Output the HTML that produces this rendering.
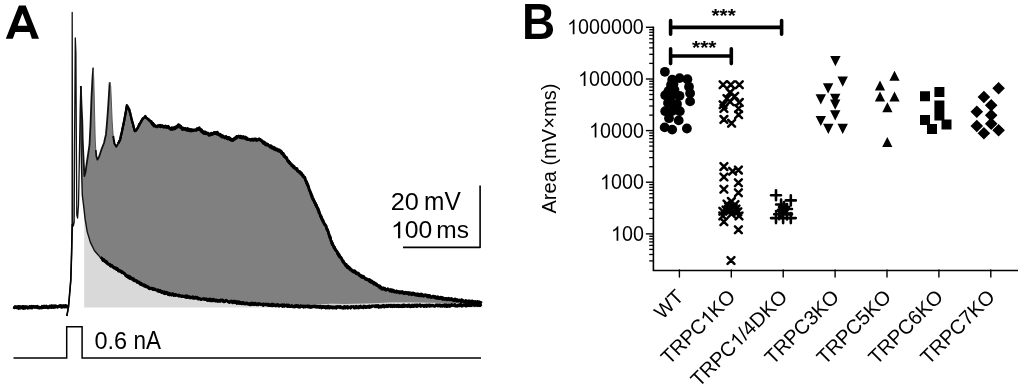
<!DOCTYPE html>
<html><head><meta charset="utf-8"><title>Figure</title>
<style>html,body{margin:0;padding:0;background:#fff;width:1024px;height:388px;overflow:hidden}svg{display:block;will-change:transform}</style>
</head><body>
<svg width="1024" height="388" viewBox="0 0 1024 388" font-family="'Liberation Sans', sans-serif" style="font-kerning:none">
<rect width="1024" height="388" fill="#fff"/>
<path d="M84.2,211.3 L85.2,219.7 L87.3,232.1 L90.4,242.4 L94.5,250.7 L100.7,257.9 L108.9,264.1 L117.2,269.2 L128.1,276.5 L139.8,283.2 L149.5,288.1 L169,294 L188.6,296.9 L208.1,299.8 L227.7,301.2 L247.2,303.7 L266.7,304.7 L286.3,305.7 L305.8,305.6 L330,303.8 L345.6,304 L369,303.4 L390,302.6 L408,302.4 L447,303 L481.6,304.8 L481.6,307.5 L84.2,307.5Z" fill="#d9d9d9"/>
<path d="M80.8,86 L81.5,105 L82.3,122 L82.7,140 L83.6,160 L84.4,176 L85.5,172 L86.5,165 L88,155 L89.5,145 L90.5,125 L91.5,97 L92.5,78 L93.2,67.7 L93.8,80 L94.5,110 L95.2,140 L95.8,150 L96.3,156 L97.4,159.7 L99,157 L101.4,149.7 L104,143 L106,134.2 L107.2,120 L108.2,106.4 L109.7,82.3 L110.7,86 L111.5,105 L112.2,121.9 L113.2,136 L114.4,143.5 L116.2,146.6 L118,144 L120,140.4 L122.5,129 L124.6,118.8 L126.8,105.8 L129.3,109.5 L132.3,121.9 L134.8,131.1 L137,129 L140,123.4 L142.5,119 L145.3,116.6 L148,119 L150.9,121.9 L154,125.5 L157.1,126.5 L159.3,125.9 L163.8,126.3 L167.7,126.6 L170.9,128.8 L174.1,128.2 L178.7,125.4 L182.5,128.8 L189,129.7 L194.1,130.8 L199.3,128.8 L203.1,132.1 L209.6,134.6 L212.2,133.6 L217.3,133.1 L221.2,135.9 L227.6,137.9 L232.8,140.1 L237.9,136.6 L244.7,137.6 L250.5,140.1 L259.2,139.5 L266,144.3 L273.7,148.2 L280.5,151.1 L285.3,156.9 L291.1,164.7 L296,168.6 L299.6,172.2 L304.1,176.7 L306.8,183 L309.5,190.2 L313.1,199.2 L317.6,208.2 L320.3,215.5 L323.9,222.7 L327.5,229.9 L329.5,235.5 L332.1,243.5 L336.3,251 L340.5,257.7 L345.5,264.8 L350.5,269.3 L357.2,273.5 L364,277.6 L370.7,281.3 L376.9,285 L381.7,288.2 L393.4,291.1 L405.2,292.9 L422.7,295.2 L440,298 L460,300.5 L481.6,303 L481.6,304.8 L447,303 L408,302.4 L390,302.6 L369,303.4 L345.6,304 L330,303.8 L305.8,305.6 L286.3,305.7 L266.7,304.7 L247.2,303.7 L227.7,301.2 L208.1,299.8 L188.6,296.9 L169,294 L149.5,288.1 L139.8,283.2 L128.1,276.5 L117.2,269.2 L108.9,264.1 L100.7,257.9 L94.5,250.7 L90.4,242.4 L87.3,232.1 L85.2,219.7 L83.8,207.4 L82.3,195 L81.6,170 L81,140 L80.7,110 L80.8,86Z" fill="#808080"/>
<path d="M66.8,316 L68.5,307 L70.8,280 L71.6,253.4 L72.1,224 L72.2,12.4 L72.4,120 L72.6,222 L73.3,226 L74.2,222 L74.5,150 L75.3,38 L75.9,53.6 L76.4,150 L76.8,215 L77.6,218 L78.5,205 L78.8,190 L79.5,150 L80.2,110 L80.8,86" fill="none" stroke="#111" stroke-width="1.3" stroke-linejoin="round"/>
<path d="M80.8,86 L81.5,105 L82.3,122 L82.7,140 L83.6,160 L84.4,176 L85.5,172 L86.5,165 L88,155 L89.5,145 L90.5,125 L91.5,97 L92.5,78 L93.2,67.7" fill="none" stroke="#111" stroke-width="1.8" stroke-linejoin="round"/>
<path d="M95.8,150 L96.3,156 L97.4,159.7 L99,157 L101.4,149.7 L104,143 L106,134.2 L107.2,120 L108.2,106.4 L109.7,82.3" fill="none" stroke="#111" stroke-width="1.8" stroke-linejoin="round"/>
<path d="M113.2,136 L114.4,143.5 L116.2,146.6 L118,144" fill="none" stroke="#000" stroke-width="2.0" stroke-linejoin="round"/>
<path d="M118,143.8 L118.4,142.8 L118.8,142.8 L119.2,141.2 L119.6,141.2 L120,140.2 L120.2,139.1 L120.3,139 L120.5,137.6 L120.6,137.5 L120.8,136.2 L120.9,135.6 L121.1,135.3 L121.2,135.2 L121.4,133.5 L121.6,132.9 L121.7,132.7 L121.9,132.5 L122,131.2 L122.2,130.3 L122.3,130.4 L122.5,128.4 L122.7,128.8 L122.8,127.2 L123,126.3 L123.1,125.6 L123.2,125.1 L123.4,125.1 L123.5,123.5 L123.7,123.3 L123.8,122.6 L124,121.5 L124.1,121.1 L124.3,119.6 L124.4,118.9 L124.6,118.4 L124.7,118.3 L124.8,117.3 L125,116.4 L125.1,116 L125.2,115.1 L125.3,114.2 L125.5,114.2 L125.6,113.3 L125.7,111.9 L125.8,111.7 L125.9,110.9 L126.1,110.7 L126.2,109.7 L126.3,108.4 L126.4,108.6 L126.6,106.7 L126.7,106.4 L126.8,106.2 L127.2,105.9 L127.6,107 L128.1,107 L128.5,108.5 L128.9,109.3 L129.3,109.6 L129.5,110.7 L129.6,110.6 L129.8,111.8 L130,112.4 L130.1,113.1 L130.3,113.6 L130.5,114.8 L130.6,115.6 L130.8,115.7 L131,116.6 L131.1,116.5 L131.3,118 L131.5,118.7 L131.6,119.8 L131.8,120.3 L132,120.2 L132.1,121.1 L132.3,122.1 L132.5,121.9 L132.7,123.3 L132.9,123.6 L133.1,124.2 L133.3,124.8 L133.5,126.5 L133.6,126.3 L133.8,127.2 L134,128.1 L134.2,129.5 L134.4,129.1 L134.6,130.3 L134.8,131.2 L135.4,131.1 L135.9,130.5 L136.4,130 L137,128.7 L137.3,128.3 L137.7,127.6 L138,127.7 L138.3,127.2 L138.7,125.4 L139,124.8 L139.3,124.3 L139.7,123.6 L140,123.4 L140.4,122.9 L140.7,121.8 L141.1,120.8 L141.4,120.8 L141.8,120.1 L142.1,119.7 L142.5,119.6 L143.1,118.8 L143.6,118.1 L144.2,117.7 L144.7,117.3 L145.3,116 L145.8,117.6 L146.4,118 L146.9,118.6 L147.5,118.9 L148,118.8 L148.6,119.4 L149.2,119.6 L149.7,120.9 L150.3,120.7 L150.9,121.3" fill="none" stroke="#000" stroke-width="2.2" stroke-linejoin="round"/>
<path d="M118,143.6 L118.4,142.8 L118.8,142.3 L119.2,141.2 L119.6,140.4 L120,139.9 L120.2,139.1 L120.3,138.8 L120.5,137.6 L120.6,138.1 L120.8,137 L120.9,135.6 L121.1,135.1 L121.2,134.5 L121.4,133.8 L121.6,132.7 L121.7,133.1 L121.9,132.5 L122,131.1 L122.2,130.4 L122.3,129.1 L122.5,128.4 L122.7,128.1 L122.8,127.2 L123,127.3 L123.1,125.6 L123.2,124.7 L123.4,125.3 L123.5,123.9 L123.7,122.7 L123.8,122.5 L124,121.1 L124.1,121 L124.3,120.9 L124.4,120 L124.6,119.1 L124.7,117.7 L124.8,117.2 L125,116.2 L125.1,116.3 L125.2,115.2 L125.3,114.9 L125.5,113.5 L125.6,112.6 L125.7,112.7 L125.8,112.3 L125.9,111.3 L126.1,110.6 L126.2,109.9 L126.3,109 L126.4,107.6 L126.6,107.3 L126.7,106.3 L126.8,105.1 L127.2,105.8 L127.6,106.7 L128.1,107.3 L128.5,108.5 L128.9,109.5 L129.3,109.4 L129.5,110.8 L129.6,111.6 L129.8,112.2 L130,112.1 L130.1,112.6 L130.3,113.3 L130.5,113.9 L130.6,114.6 L130.8,115.9 L131,116.9 L131.1,117.6 L131.3,117.7 L131.5,118.7 L131.6,119.6 L131.8,119.3 L132,120.7 L132.1,121.8 L132.3,122.3 L132.5,123 L132.7,123.3 L132.9,123.6 L133.1,125.1 L133.3,125.2 L133.5,126.6 L133.6,127.5 L133.8,127.4 L134,128.1 L134.2,129.6 L134.4,130 L134.6,129.9 L134.8,130.6 L135.4,130.1 L135.9,130.6 L136.4,130 L137,128.5 L137.3,128.8 L137.7,128.4 L138,127.4 L138.3,126.3 L138.7,126 L139,124.8 L139.3,124 L139.7,124.7 L140,123.6 L140.4,122.8 L140.7,122.7 L141.1,121.4 L141.4,121.4 L141.8,120.7 L142.1,119.2 L142.5,118.7 L143.1,118.2 L143.6,117.7 L144.2,117.7 L144.7,116.7 L145.3,116.5 L145.8,116.6 L146.4,118.1 L146.9,117.8 L147.5,118.5 L148,119.1 L148.6,120.1 L149.2,120 L149.7,121.3 L150.3,121.3 L150.9,121.9" fill="none" stroke="#000" stroke-width="2.2" stroke-linejoin="round"/>
<path d="M93.2,67.7 L93.8,80 L94.5,110 L95.2,140 L95.8,150" fill="none" stroke="#555" stroke-width="1.0" stroke-linejoin="round"/>
<path d="M109.7,82.3 L110.7,86 L111.5,105 L112.2,121.9 L113.2,136" fill="none" stroke="#555" stroke-width="1.0" stroke-linejoin="round"/>
<path d="M150.9,122 L151.4,121.4 L151.9,123 L152.4,123 L153,123.2 L153.5,125.6 L154,124.8 L154.8,125.7 L155.6,126.5 L156.3,126.4 L157.1,126.1 L157.8,126.3 L158.6,126.2 L159.3,126.5 L160.1,125.1 L160.8,126.2 L161.6,125.5 L162.3,125.7 L163.1,126.8 L163.8,126.3 L164.6,126.5 L165.4,127 L166.1,127.4 L166.9,126.4 L167.7,126.8 L168.3,127.1 L169,127.5 L169.6,128.3 L170.3,128.3 L170.9,128.9 L171.7,128.6 L172.5,129.5 L173.3,128.8 L174.1,129 L174.8,128.8 L175.4,126.9 L176.1,127.1 L176.7,127.6 L177.4,126.9 L178,125 L178.7,124.6 L179.2,125.8 L179.8,125.4 L180.3,126.3 L180.9,126.4 L181.4,128.2 L182,128.9 L182.5,129.7 L183.2,128.1 L183.9,129.5 L184.7,129.5 L185.4,128.4 L186.1,130.1 L186.8,130.4 L187.6,128.9 L188.3,130.6 L189,129.5 L189.7,129.8 L190.5,131.1 L191.2,130.9 L191.9,129.6 L192.6,130.3 L193.4,130.7 L194.1,130.4 L194.8,129.8 L195.6,129.8 L196.3,130.4 L197.1,128.6 L197.8,129.5 L198.6,129 L199.3,127.7 L199.8,128.9 L200.4,130 L200.9,130.2 L201.5,129.7 L202,132.2 L202.6,132.3 L203.1,133.1 L203.8,131.5 L204.5,132.1 L205.3,131.9 L206,133.8 L206.7,133 L207.4,133 L208.2,133.9 L208.9,135.2 L209.6,135.3 L210.5,133.7 L211.3,133.2 L212.2,134.5 L212.9,133.7 L213.7,133.9 L214.4,132.5 L215.1,132.3 L215.8,133.7 L216.6,133 L217.3,132.2 L218,134.5 L218.6,134.3 L219.2,135.2 L219.9,134.1 L220.5,136.2 L221.2,134.9 L221.9,136.9 L222.6,136.2 L223.3,136.2 L224,136.9 L224.8,137.9 L225.5,136.7 L226.2,136.6 L226.9,137.7 L227.6,137.3 L228.2,137.3 L228.9,137.7 L229.6,137.7 L230.2,138.3 L230.8,138.9 L231.5,139.1 L232.2,140.4 L232.8,139.6 L233.4,139.7 L234.1,138.5 L234.7,138.5 L235.4,137.3 L236,137.4 L236.6,136.4 L237.3,137.6 L237.9,136.7 L238.7,136 L239.4,136.8 L240.2,137.9 L240.9,136.2 L241.7,137.9 L242.4,137.1 L243.2,137.4 L243.9,138.2 L244.7,137.4 L245.3,137.9 L246,138.6 L246.6,139.5 L247.3,138.4 L247.9,139.7 L248.6,139.7 L249.2,139.8 L249.9,139.6 L250.5,139.8 L251.2,139.1 L251.9,139.2 L252.7,139 L253.4,140.4 L254.1,139.3 L254.8,139.1 L255.6,138.8 L256.3,140.5 L257,140.5 L257.8,140 L258.5,139.1 L259.2,138.9 L259.8,139.5 L260.4,140.3 L261.1,140.1 L261.7,141.1 L262.3,141.2 L262.9,143.1 L263.5,143.6 L264.1,143.1 L264.8,142.9 L265.4,144.9 L266,143.9 L266.6,144.3 L267.3,143.9 L267.9,145 L268.6,145.5 L269.2,145.9 L269.9,145.6 L270.5,146.6 L271.1,145.8 L271.8,146.7 L272.4,146.6 L273.1,147.7 L273.7,147.2 L274.4,147.4 L275.1,148.3 L275.7,148.5 L276.4,149.5 L277.1,149.7 L277.8,150.5 L278.5,150.6 L279.1,151 L279.8,151.6 L280.5,150.9 L281,151.3 L281.5,153.3 L281.9,152.1 L282.4,153.9 L282.9,154.3 L283.4,153.6 L283.9,155.9 L284.3,156.6 L284.8,156.6 L285.3,157.4 L285.7,158.2 L286.2,157.3 L286.6,158.8 L287.1,159.3 L287.5,160.6 L288,161.2 L288.4,161.8 L288.9,161.9 L289.3,163.2 L289.8,163.3 L290.2,163.9 L290.7,163.5 L291.1,163.7 L291.7,164.4 L292.3,165.4 L292.9,165.3 L293.6,167.4 L294.2,167.3 L294.8,167.9 L295.4,168.4 L296,169 L296.5,169.1 L297,168.5 L297.5,170.8 L298.1,171.2 L298.6,171.2 L299.1,171.8 L299.6,172.6 L300.1,171.7 L300.6,173.7 L301.1,173.2 L301.6,173.3 L302.1,174.2 L302.6,175.7 L303.1,175.1 L303.6,176.7 L304.1,177.7 L304.4,177.4 L304.7,177.8 L305,178.8 L305.3,179.9 L305.6,180.8 L305.9,181.2 L306.2,181.9 L306.5,181.4 L306.8,182.2 L307.1,183.2 L307.3,185 L307.6,184.7 L307.9,186 L308.1,185.5 L308.4,186.4 L308.7,187.5 L309,189.1 L309.2,189.9 L309.5,190.6 L309.8,190.4 L310.1,191.6 L310.3,192.2 L310.6,192.9 L310.9,192.8 L311.2,195.2 L311.4,194.4 L311.7,196.8 L312,197.4 L312.3,196.1 L312.5,197.7 L312.8,199.2 L313.1,200.2 L313.4,199.7 L313.7,200 L314.1,200.5 L314.4,202.8 L314.7,201.8 L315,203.2 L315.4,202.9 L315.7,204.4 L316,206 L316.3,204.8 L316.6,207 L317,206.9 L317.3,208.4 L317.6,208.6 L317.8,208.3 L318.1,210.4 L318.3,210.2 L318.6,209.8 L318.8,210.4 L319.1,212.2 L319.3,212.7 L319.6,213.1 L319.8,213.4 L320.1,214.5 L320.3,215.1 L320.6,216.9 L321,215.7 L321.3,218 L321.6,218.9 L321.9,217.9 L322.3,220.4 L322.6,220.6 L322.9,221.6 L323.2,220.9 L323.6,221.8 L323.9,222.5 L324.2,224.5 L324.6,224.2 L324.9,224.4 L325.2,225.2 L325.5,225.5 L325.9,225.6 L326.2,226.4 L326.5,228.7 L326.8,228.1 L327.2,230.2 L327.5,229.3 L327.8,230.1 L328,231.3 L328.2,231.3 L328.5,232.4 L328.8,234.4 L329,234.9 L329.2,235.5 L329.5,235.8 L329.7,237.1 L329.9,237.8 L330.1,237.6 L330.4,238.6 L330.6,237.8 L330.8,240 L331,240.1 L331.2,241.4 L331.5,241.8 L331.7,241.7 L331.9,241.8 L332.1,244.4 L332.5,243.3 L332.8,244.7 L333.2,245 L333.5,245.6 L333.9,247.2 L334.2,248.3 L334.6,247.3 L334.9,248.8 L335.2,248.7 L335.6,249.9 L335.9,250.1 L336.3,250.3 L336.7,250.9 L337.1,251.6 L337.4,253.7 L337.8,253.4 L338.2,253.4 L338.6,255.5 L339,256.4 L339.4,255.8 L339.7,255.7 L340.1,256.4 L340.5,256.8 L340.9,257.9 L341.3,258 L341.8,258.9 L342.2,259.5 L342.6,260.8 L343,262.1 L343.4,262.4 L343.8,262.2 L344.2,262.8 L344.7,263.7 L345.1,263.9 L345.5,264.4 L346.1,264.3 L346.6,265.3 L347.2,267.3 L347.7,266 L348.3,267.3 L348.8,268.1 L349.4,269.1 L349.9,268.2 L350.5,268.8 L351.1,269.1 L351.7,269.8 L352.3,270.3 L352.9,271.8 L353.5,272 L354.2,272.4 L354.8,270.9 L355.4,271.3 L356,273.2 L356.6,274 L357.2,273.4 L357.8,274.1 L358.4,273.1 L359.1,274.4 L359.7,275.9 L360.3,276.1 L360.9,276.5 L361.5,277.1 L362.1,275.9 L362.8,276 L363.4,276.5 L364,277.6 L364.7,278.4 L365.3,279.3 L366,279.2 L366.7,279.4 L367.4,280 L368,279.7 L368.7,280.3 L369.4,279.5 L370,281.6 L370.7,280.7 L371.3,282.6 L371.9,282.4 L372.6,282 L373.2,282 L373.8,282.6 L374.4,283.8 L375,284.3 L375.7,283.4 L376.3,283.7 L376.9,285.1 L377.5,285.6 L378.1,285.6 L378.7,285.6 L379.3,286.8 L379.9,285.9 L380.5,287 L381.1,287.7 L381.7,289.2 L382.4,288.7 L383.1,289.4 L383.8,288.7 L384.5,288.3 L385.1,288.5 L385.8,290.2 L386.5,289.8 L387.2,289.1 L387.9,288.7 L388.6,289.9 L389.3,290.5 L390,290.1 L390.6,289.9 L391.3,291 L392,291.7 L392.7,290.3 L393.4,290.1 L394.1,290.8 L394.8,291.1 L395.5,291.8 L396.2,290.9 L396.9,292.3 L397.6,292.3 L398.3,291.9 L399,291.3 L399.6,293.1 L400.3,291.7 L401,293 L401.7,291.8 L402.4,291.9 L403.1,293.2 L403.8,292.2 L404.5,293.8 L405.2,292.9 L405.9,292.3 L406.6,292.5 L407.3,293 L408,293.6 L408.7,294.3 L409.4,292.7 L410.1,293.3 L410.8,293 L411.5,294.8 L412.2,293 L412.9,292.9 L413.6,293 L414.3,293.9 L415,295.1 L415.7,295.1 L416.4,294.9 L417.1,295.6 L417.8,295.5 L418.5,294.3 L419.2,294 L419.9,295.8 L420.6,295.5 L421.3,294 L422,295.5 L422.7,294.9 L423.4,295 L424.1,295.1 L424.8,294.8 L425.5,294.6 L426.2,295.3 L426.9,295.5 L427.5,297 L428.2,295.3 L428.9,297.2 L429.6,295.7 L430.3,296.1 L431,297.3 L431.7,297.4 L432.4,296.6 L433.1,295.9 L433.8,296.9 L434.5,296.8 L435.2,298.1 L435.8,296.7 L436.5,297.1 L437.2,298.4 L437.9,296.6 L438.6,297.6 L439.3,298.6 L440,298.6 L440.7,297.1 L441.4,297.2 L442.1,297.3 L442.9,299.3 L443.6,297.9 L444.3,299.1 L445,299.5 L445.7,298.4 L446.4,298.3 L447.1,299.9 L447.9,299.2 L448.6,298.5 L449.3,299.6 L450,298.8 L450.7,298.8 L451.4,298.3 L452.1,300.1 L452.9,300.5 L453.6,300 L454.3,300.8 L455,298.8 L455.7,299.4 L456.4,300 L457.1,301.1 L457.9,301.2 L458.6,300.1 L459.3,299.9 L460,300.3 L460.7,300.6 L461.4,301.6 L462.1,300 L462.8,301.5 L463.5,301.4 L464.2,301.7 L464.9,301.7 L465.6,301.4 L466.3,300.8 L467,300.9 L467.7,301.1 L468.4,302.1 L469.1,300.6 L469.8,301 L470.5,302.3 L471.1,301.2 L471.8,300.9 L472.5,300.9 L473.2,302.1 L473.9,301.7 L474.6,303.3 L475.3,303.1 L476,303.4 L476.7,301.9 L477.4,301.6 L478.1,301.7 L478.8,302.7 L479.5,303.2 L480.2,302.7 L480.9,302.3 L481.6,302.8" fill="none" stroke="#000" stroke-width="2.6" stroke-linejoin="round"/>
<path d="M150.9,122.2 L151.4,122.9 L151.9,123.6 L152.4,124.5 L153,124.7 L153.5,124.1 L154,126.2 L154.8,125.3 L155.6,126.1 L156.3,126 L157.1,127 L157.8,125.6 L158.6,125.5 L159.3,125.3 L160.1,125.2 L160.8,126.9 L161.6,126.3 L162.3,125.8 L163.1,126 L163.8,127.4 L164.6,126.4 L165.4,125.8 L166.1,127.2 L166.9,126.9 L167.7,127.7 L168.3,126.2 L169,127.4 L169.6,128.6 L170.3,129.1 L170.9,129.7 L171.7,127.6 L172.5,128 L173.3,127.5 L174.1,127.5 L174.8,128.8 L175.4,127.6 L176.1,127.9 L176.7,126.3 L177.4,127 L178,125.7 L178.7,124.9 L179.2,126.5 L179.8,127.4 L180.3,126 L180.9,127.6 L181.4,128.1 L182,127.7 L182.5,128.5 L183.2,128.1 L183.9,128.3 L184.7,128.6 L185.4,129.4 L186.1,129.6 L186.8,128.7 L187.6,128.4 L188.3,129.2 L189,130.1 L189.7,129.2 L190.5,129.6 L191.2,129.5 L191.9,131 L192.6,130.6 L193.4,129.7 L194.1,129.9 L194.8,130.3 L195.6,130.3 L196.3,130.2 L197.1,128.8 L197.8,128.6 L198.6,129.5 L199.3,128.6 L199.8,128.8 L200.4,129.3 L200.9,131.2 L201.5,130.3 L202,131.3 L202.6,131.3 L203.1,131.9 L203.8,133.2 L204.5,133.7 L205.3,132.6 L206,132.5 L206.7,134 L207.4,133.1 L208.2,133 L208.9,135.2 L209.6,134.4 L210.5,135 L211.3,133.7 L212.2,134.4 L212.9,133.4 L213.7,132.7 L214.4,132.3 L215.1,133.4 L215.8,133.6 L216.6,134.1 L217.3,132.2 L218,133.8 L218.6,133.7 L219.2,134.5 L219.9,134.2 L220.5,135 L221.2,135.9 L221.9,137.1 L222.6,135.5 L223.3,136.5 L224,137.5 L224.8,138 L225.5,136.6 L226.2,136.6 L226.9,138.7 L227.6,138.9 L228.2,138.1 L228.9,137.5 L229.6,139.7 L230.2,138.8 L230.8,140.2 L231.5,139.8 L232.2,140.5 L232.8,139.4 L233.4,140.3 L234.1,138.6 L234.7,138.6 L235.4,139.1 L236,138.6 L236.6,136.8 L237.3,136.4 L237.9,136.4 L238.7,136.8 L239.4,136.6 L240.2,136.1 L240.9,136.5 L241.7,137.7 L242.4,138.1 L243.2,136.4 L243.9,137.6 L244.7,138.2 L245.3,136.9 L246,138.9 L246.6,137.6 L247.3,138.9 L247.9,139.1 L248.6,139.5 L249.2,139.1 L249.9,139.6 L250.5,140.3 L251.2,139.9 L251.9,140.3 L252.7,139.8 L253.4,139.8 L254.1,138.8 L254.8,140.1 L255.6,139.7 L256.3,139.1 L257,140.2 L257.8,140.2 L258.5,139.5 L259.2,138.8 L259.8,139.9 L260.4,139.5 L261.1,140 L261.7,141.1 L262.3,140.8 L262.9,142 L263.5,142.6 L264.1,142 L264.8,143.7 L265.4,142.9 L266,144.8 L266.6,145.2 L267.3,145 L267.9,144.3 L268.6,145.6 L269.2,145.7 L269.9,147.2 L270.5,145.8 L271.1,147.7 L271.8,148.3 L272.4,148.1 L273.1,148.6 L273.7,147.5 L274.4,149.5 L275.1,148.8 L275.7,150.1 L276.4,150.3 L277.1,148.9 L277.8,150.6 L278.5,151.2 L279.1,149.6 L279.8,150.5 L280.5,151.7 L281,150.9 L281.5,153.1 L281.9,152.3 L282.4,154.1 L282.9,153.2 L283.4,154.6 L283.9,156.1 L284.3,155.1 L284.8,155.8 L285.3,156.9 L285.7,157.1 L286.2,157.1 L286.6,158 L287.1,158.6 L287.5,160.9 L288,160.9 L288.4,162 L288.9,161 L289.3,162.9 L289.8,162.1 L290.2,163.6 L290.7,164.4 L291.1,164.4 L291.7,166 L292.3,165.8 L292.9,166.3 L293.6,167.5 L294.2,166.3 L294.8,168.7 L295.4,168.4 L296,168.4 L296.5,169.8 L297,169.1 L297.5,171.2 L298.1,170.8 L298.6,170.9 L299.1,172.3 L299.6,172.1 L300.1,172 L300.6,173.7 L301.1,172.7 L301.6,174.9 L302.1,174.2 L302.6,175.5 L303.1,176.8 L303.6,176.4 L304.1,177.1 L304.4,177 L304.7,177 L305,177.8 L305.3,178.7 L305.6,180.5 L305.9,180.8 L306.2,181.6 L306.5,183.2 L306.8,182.2 L307.1,183.1 L307.3,184.8 L307.6,184.1 L307.9,184.8 L308.1,186.3 L308.4,186.5 L308.7,187.7 L309,188.2 L309.2,189.7 L309.5,190.4 L309.8,190.2 L310.1,191.9 L310.3,192.2 L310.6,192.2 L310.9,194.6 L311.2,193.8 L311.4,194.3 L311.7,194.8 L312,196.7 L312.3,197.9 L312.5,198.4 L312.8,198.3 L313.1,198.7 L313.4,198.8 L313.7,200.8 L314.1,201.3 L314.4,201.4 L314.7,202.7 L315,202.9 L315.4,204.7 L315.7,204.9 L316,204.4 L316.3,206.5 L316.6,205.3 L317,207 L317.3,207.4 L317.6,207.6 L317.8,207.9 L318.1,210.1 L318.3,209.1 L318.6,211 L318.8,212.5 L319.1,211.4 L319.3,212.2 L319.6,213.7 L319.8,214.2 L320.1,215.1 L320.3,216.2 L320.6,215.4 L321,216.4 L321.3,217 L321.6,217.1 L321.9,219.6 L322.3,220 L322.6,220.6 L322.9,219.7 L323.2,222.1 L323.6,222.6 L323.9,222.6 L324.2,223.9 L324.6,223.9 L324.9,224.1 L325.2,224.4 L325.5,225.4 L325.9,225.6 L326.2,226.9 L326.5,228.5 L326.8,229 L327.2,230 L327.5,230.4 L327.8,230.1 L328,231.4 L328.2,231.9 L328.5,233.3 L328.8,233.5 L329,233.6 L329.2,235.1 L329.5,236.5 L329.7,235.5 L329.9,237.7 L330.1,236.4 L330.4,237.6 L330.6,238.3 L330.8,240 L331,241.1 L331.2,241.4 L331.5,241.1 L331.7,243 L331.9,242.5 L332.1,242.9 L332.5,245 L332.8,245 L333.2,245.8 L333.5,246.4 L333.9,247.7 L334.2,247.2 L334.6,248.6 L334.9,248.9 L335.2,249.9 L335.6,249.6 L335.9,250.9 L336.3,251.2 L336.7,251.2 L337.1,251.6 L337.4,253.1 L337.8,252.5 L338.2,254.9 L338.6,253.9 L339,254.2 L339.4,255 L339.7,257.4 L340.1,256.7 L340.5,256.9 L340.9,257.3 L341.3,257.9 L341.8,259.9 L342.2,260.4 L342.6,261.1 L343,261.8 L343.4,260.9 L343.8,262.6 L344.2,262.7 L344.7,264.3 L345.1,264.9 L345.5,265.7 L346.1,264.3 L346.6,266.6 L347.2,267.2 L347.7,267.8 L348.3,266.4 L348.8,267.2 L349.4,267.4 L349.9,267.8 L350.5,270.1 L351.1,270.4 L351.7,270.4 L352.3,271.2 L352.9,271.1 L353.5,270.7 L354.2,270.7 L354.8,271.1 L355.4,272.9 L356,272.1 L356.6,272.7 L357.2,273.3 L357.8,272.8 L358.4,273.7 L359.1,274.1 L359.7,275.5 L360.3,275.1 L360.9,275.3 L361.5,277.1 L362.1,276.5 L362.8,277.6 L363.4,277.5 L364,276.6 L364.7,277.8 L365.3,278.2 L366,279.3 L366.7,278.7 L367.4,279.9 L368,279.9 L368.7,279.6 L369.4,281.4 L370,280 L370.7,282 L371.3,280.9 L371.9,280.9 L372.6,281.8 L373.2,283.4 L373.8,284.2 L374.4,282.4 L375,283.9 L375.7,284.2 L376.3,285.3 L376.9,284.3 L377.5,285.4 L378.1,285.5 L378.7,286.9 L379.3,286.1 L379.9,288 L380.5,286.9 L381.1,287.2 L381.7,288.6 L382.4,288.4 L383.1,287.7 L383.8,289 L384.5,288 L385.1,289.7 L385.8,289.7 L386.5,290 L387.2,289.8 L387.9,289.4 L388.6,289.7 L389.3,289.8 L390,291.1 L390.6,289.5 L391.3,291.4 L392,289.7 L392.7,290.3 L393.4,290.6 L394.1,292.1 L394.8,291.3 L395.5,291.2 L396.2,292.4 L396.9,291 L397.6,291.6 L398.3,291.9 L399,292.5 L399.6,292.6 L400.3,292.5 L401,291.9 L401.7,292 L402.4,291.7 L403.1,293.3 L403.8,293 L404.5,293.3 L405.2,292.2 L405.9,292.9 L406.6,293.7 L407.3,293.4 L408,292.4 L408.7,293.3 L409.4,294.3 L410.1,293 L410.8,293 L411.5,293.3 L412.2,294.3 L412.9,294.7 L413.6,293.2 L414.3,293.3 L415,293.6 L415.7,293.9 L416.4,294.4 L417.1,293.7 L417.8,294.2 L418.5,294 L419.2,295.8 L419.9,295.3 L420.6,294 L421.3,296 L422,294.2 L422.7,294.9 L423.4,296.4 L424.1,296.1 L424.8,296 L425.5,295.5 L426.2,295.1 L426.9,296.2 L427.5,295.1 L428.2,295.5 L428.9,296 L429.6,295.3 L430.3,296.2 L431,297.2 L431.7,297.1 L432.4,296.8 L433.1,297.2 L433.8,296.9 L434.5,296.3 L435.2,297.4 L435.8,297.1 L436.5,298 L437.2,298.4 L437.9,297.5 L438.6,297.9 L439.3,298.4 L440,297.8 L440.7,297.5 L441.4,298.7 L442.1,299.1 L442.9,299 L443.6,298.9 L444.3,299.3 L445,299 L445.7,299 L446.4,298.7 L447.1,298.5 L447.9,299.3 L448.6,298.2 L449.3,299 L450,299.9 L450.7,299.8 L451.4,299.7 L452.1,299 L452.9,299.4 L453.6,299.6 L454.3,300.1 L455,299.7 L455.7,300.3 L456.4,301 L457.1,299.4 L457.9,300.6 L458.6,300.9 L459.3,300.2 L460,300.5 L460.7,301.6 L461.4,299.6 L462.1,300.8 L462.8,300.1 L463.5,301.5 L464.2,302 L464.9,301.1 L465.6,300.3 L466.3,301.4 L467,301.4 L467.7,301.9 L468.4,301.5 L469.1,301.9 L469.8,302.4 L470.5,301.8 L471.1,301.6 L471.8,302.9 L472.5,301.3 L473.2,302.4 L473.9,301.9 L474.6,302.8 L475.3,301.4 L476,303.4 L476.7,302.1 L477.4,301.5 L478.1,302.1 L478.8,302.5 L479.5,301.7 L480.2,302.7 L480.9,302.7 L481.6,303.4" fill="none" stroke="#000" stroke-width="2.6" stroke-linejoin="round"/>
<path d="M100.7,257.6 L101.3,257.8 L101.9,258.2 L102.5,259.8 L103,260.6 L103.6,260.2 L104.2,259.9 L104.8,261.7 L105.4,261.2 L106,261.3 L106.6,261.5 L107.1,263.4 L107.7,263.9 L108.3,264 L108.9,264 L109.5,264.6 L110.2,264.3 L110.8,266.3 L111.5,265.3 L112.1,266.4 L112.7,267.2 L113.4,267.5 L114,267.2 L114.6,267.2 L115.3,268.1 L115.9,267.6 L116.6,269.5 L117.2,268.9 L117.8,270.4 L118.4,269.5 L119,270.1 L119.6,270.3 L120.2,271.1 L120.8,270.9 L121.4,270.9 L122,272.9 L122.7,272.4 L123.3,272.7 L123.9,273.2 L124.5,274 L125.1,274.3 L125.7,275.2 L126.3,275.6 L126.9,275.4 L127.5,277 L128.1,277.3 L128.7,275.9 L129.3,277.9 L129.9,278.5 L130.6,278.5 L131.2,277.5 L131.8,279.3 L132.4,279.3 L133,278.3 L133.6,278.6 L134.3,281 L134.9,280.7 L135.5,280.2 L136.1,280.2 L136.7,280.7 L137.3,281.2 L138,282.7 L138.6,282.2 L139.2,282.1 L139.8,284.1 L140.4,284.2 L141.1,283.1 L141.7,285 L142.4,284.7 L143,285.5 L143.7,285.5 L144.3,286.4 L145,286.4 L145.6,286.9 L146.3,285.8 L146.9,287.2 L147.6,287.2 L148.2,288 L148.9,287.6 L149.5,288.9 L150.2,288.4 L150.8,288 L151.5,288.1 L152.2,288.1 L152.9,289.1 L153.5,288.3 L154.2,289.5 L154.9,288.9 L155.6,289.9 L156.2,290.1 L156.9,290.4 L157.6,291.3 L158.2,289.7 L158.9,291.7 L159.6,291.1 L160.3,291.5 L160.9,291.9 L161.6,292.5 L162.3,291.7 L162.9,292 L163.6,293.4 L164.3,291.6 L165,293.1 L165.6,293.3 L166.3,292.1 L167,293.6 L167.7,294 L168.3,294.7 L169,293.6 L169.7,295.2 L170.4,294.2 L171.1,294.3 L171.8,295.3 L172.5,293.5 L173.2,295.1 L173.9,295 L174.6,294.5 L175.3,295.7 L176,294.7 L176.7,295.1 L177.4,295.3 L178.1,295.9 L178.8,294.8 L179.5,295.4 L180.2,295.5 L180.9,295.9 L181.6,296.6 L182.3,295.5 L183,296.8 L183.7,296 L184.4,296.3 L185.1,295.9 L185.8,296.5 L186.5,297.6 L187.2,297 L187.9,297.4 L188.6,296.5 L189.3,296.6 L190,296.7 L190.7,297.4 L191.4,297.6 L192.1,298 L192.8,296.5 L193.5,298.1 L194.2,298.6 L194.9,297.9 L195.6,296.9 L196.3,297.6 L197,297.1 L197.7,297.6 L198.3,299.3 L199,298.7 L199.7,298.9 L200.4,299.3 L201.1,299.7 L201.8,299.1 L202.5,299.2 L203.2,299.4 L203.9,299.6 L204.6,299.5 L205.3,299.8 L206,298.9 L206.7,300 L207.4,299.6 L208.1,300.4 L208.8,299 L209.5,299.2 L210.2,298.9 L210.9,300.6 L211.6,301 L212.3,300.4 L213,299.9 L213.7,300.9 L214.4,300.9 L215.1,300.4 L215.8,299.8 L216.5,300 L217.2,300.3 L217.9,300.1 L218.6,300.4 L219.3,300.9 L220,301.6 L220.7,299.7 L221.4,300.9 L222.1,299.8 L222.8,300 L223.5,301.6 L224.2,301.1 L224.9,301.9 L225.6,300.9 L226.3,300 L227,300.9 L227.7,301.4 L228.4,302.3 L229.1,302.4 L229.8,301.4 L230.5,301.4 L231.2,300.8 L231.9,302.1 L232.6,301.2 L233.3,301.1 L234,300.9 L234.7,301 L235.4,302.6 L236.1,301.4 L236.8,303.4 L237.4,301.5 L238.1,303.4 L238.8,301.8 L239.5,301.7 L240.2,303.3 L240.9,302.3 L241.6,303.5 L242.3,302.4 L243,302.2 L243.7,303.9 L244.4,303.8 L245.1,304.2 L245.8,304 L246.5,302.7 L247.2,304 L247.9,304.2 L248.6,303.7 L249.4,304.8 L250.1,303.3 L250.8,304.9 L251.5,304.4 L252.3,302.9 L253,302.9 L253.7,304.4 L254.4,304.8 L255.1,303.2 L255.9,303.7 L256.6,304.7 L257.3,303.5 L258,305 L258.8,304.3 L259.5,303.4 L260.2,304.1 L260.9,304.6 L261.6,304.3 L262.4,304.9 L263.1,303.7 L263.8,305.2 L264.5,304.3 L265.3,304.9 L266,304.9 L266.7,304.5 L267.4,304.5 L268.1,305.4 L268.8,305.8 L269.5,305.5 L270.2,305 L270.9,304.5 L271.6,304 L272.3,306 L273,305.5 L273.7,305.8 L274.4,304.7 L275.1,305.4 L275.8,306.2 L276.5,305.9 L277.2,305.5 L277.9,304.9 L278.6,305.1 L279.3,306.2 L280,305.1 L280.7,305.8 L281.4,305.7 L282.1,306.4 L282.8,306.2 L283.5,305.1 L284.2,304.5 L284.9,305.1 L285.6,305.5 L286.3,305.9 L287,306.4 L287.7,306.6 L288.5,304.8 L289.2,306.6 L289.9,306.6 L290.6,306.7 L291.4,306.1 L292.1,305.5 L292.8,306.8 L293.5,306.7 L294.2,306.5 L295,307 L295.7,305.8 L296.4,305.3 L297.1,306.3 L297.9,306.9 L298.6,305.6 L299.3,306.9 L300,307.3 L300.7,305.8 L301.5,306.6 L302.2,306.8 L302.9,306.4 L303.6,305.9 L304.4,306 L305.1,307.1 L305.8,307.2 L306.5,306.5 L307.2,305.7 L307.9,307.3 L308.6,307.3 L309.4,306.1 L310.1,306.9 L310.8,307.6 L311.5,307.6 L312.2,306.8 L312.9,306.7 L313.6,307 L314.3,306.1 L315.1,306.2 L315.8,306.1 L316.5,307.3 L317.2,306.6 L317.9,307 L318.6,306.7 L319.3,307 L320,306.2 L320.7,306 L321.5,308.1 L322.2,306.7 L322.9,306.2 L323.6,307.3 L324.3,307.7 L325,306.3 L325.7,307.3 L326.4,306.8 L327.2,307.2 L327.9,306.1 L328.6,306.1 L329.3,308.3 L330,308 L330.7,307.2 L331.4,307.4 L332.1,306.7 L332.8,307.9 L333.5,307.1 L334.3,308.2 L335,307.9 L335.7,308 L336.4,308.3 L337.1,306.7 L337.8,306.3 L338.5,306.7 L339.2,306.6 L339.9,306.4 L340.6,306.3 L341.3,307.5 L342.1,308.2 L342.8,307.3 L343.5,308.4 L344.2,308.3 L344.9,306.4 L345.6,307.6 L346.3,307.2 L347,306.5 L347.7,308.4 L348.4,306.8 L349.1,307.5 L349.9,307.6 L350.6,308.3 L351.3,307.6 L352,307 L352.7,307.1 L353.4,306.5 L354.1,308.2 L354.8,308.2 L355.5,306.5 L356.2,306.1 L356.9,306.6 L357.7,306.8 L358.4,308 L359.1,307.9 L359.8,307.8 L360.5,306 L361.2,307.6 L361.9,307.4 L362.6,307.3 L363.3,308 L364,305.9 L364.7,306.1 L365.5,307.5 L366.2,307.8 L366.9,307.2 L367.6,306.4 L368.3,307 L369,307.4 L369.7,305.9 L370.4,306.4 L371.1,306.2 L371.8,305.9 L372.5,306.6 L373.2,305.9 L373.9,306 L374.6,305.8 L375.3,307 L376,305.5 L376.7,307 L377.4,305.8 L378.1,305.4 L378.8,307.4 L379.5,305.8 L380.2,307.3 L380.9,307.2 L381.6,307.2 L382.3,305.5 L383,306.2 L383.7,305.4 L384.4,307.2 L385.1,306.9 L385.8,306.4 L386.5,306 L387.2,305.8 L387.9,306.8 L388.6,306 L389.3,306.3 L390,305.2 L390.7,305.4 L391.4,305 L392.2,306.4 L392.9,306.1 L393.6,305.2 L394.3,306.8 L395,305.4 L395.8,305.7 L396.5,305.2 L397.2,305.4 L397.9,306.7 L398.6,305.5 L399.4,305.2 L400.1,305.9 L400.8,305.5 L401.5,306.8 L402.2,305 L403,306.9 L403.7,304.9 L404.4,306.7 L405.1,306.2 L405.8,305.2 L406.6,305.8 L407.3,305.3 L408,305.3 L408.7,305.1 L409.4,305.5 L410.1,306.9 L410.8,306.9 L411.5,306.7 L412.3,304.9 L413,305.3 L413.7,306.6 L414.4,304.8 L415.1,306.3 L415.8,305.3 L416.5,306.8 L417.2,304.7 L417.9,306.4 L418.6,305.4 L419.3,305 L420.1,304.6 L420.8,306.5 L421.5,305.8 L422.2,305 L422.9,305.6 L423.6,306.6 L424.3,305.1 L425,305.9 L425.7,304.9 L426.4,305 L427.1,306.3 L427.9,306.2 L428.6,305 L429.3,304.8 L430,304.8 L430.7,305.9 L431.4,305.7 L432.1,305.2 L432.8,305 L433.5,305.9 L434.2,306.1 L434.9,306.3 L435.7,305.8 L436.4,305 L437.1,304.7 L437.8,306.2 L438.5,305.4 L439.2,306.1 L439.9,304.7 L440.6,306.3 L441.3,305.3 L442,306.4 L442.7,306.4 L443.5,305.6 L444.2,304.5 L444.9,306.5 L445.6,305.6 L446.3,306.4 L447,305.1 L447.7,304.9 L448.4,306.3 L449.1,305.3 L449.8,304.8 L450.5,305.2 L451.2,305.7 L451.9,304.4 L452.6,305.5 L453.4,305.3 L454.1,305.5 L454.8,304.6 L455.5,305.9 L456.2,306.1 L456.9,306.2 L457.6,305 L458.3,305.8 L459,305.1 L459.7,305.9 L460.4,304.3 L461.1,306.1 L461.8,306.3 L462.5,305.2 L463.2,305.3 L463.9,305.3 L464.7,305.3 L465.4,304.1 L466.1,306.2 L466.8,304.5 L467.5,304.4 L468.2,304.2 L468.9,304.5 L469.6,305.8 L470.3,304 L471,304.2 L471.7,305.5 L472.4,304.3 L473.1,303.9 L473.8,305.2 L474.5,305.1 L475.2,305 L476,305.4 L476.7,304 L477.4,305.7 L478.1,305.4 L478.8,303.9 L479.5,304 L480.2,304.8 L480.9,304.8 L481.6,304.3" fill="none" stroke="#000" stroke-width="2.5" stroke-linejoin="round"/>
<path d="M100.7,257.1 L101.3,258.1 L101.9,258 L102.5,259.4 L103,260.5 L103.6,259.3 L104.2,260.7 L104.8,261.5 L105.4,260.7 L106,262.6 L106.6,263.3 L107.1,262.5 L107.7,263 L108.3,264.4 L108.9,264.2 L109.5,264.3 L110.2,265.9 L110.8,265.9 L111.5,265.3 L112.1,265.5 L112.7,266.1 L113.4,266.7 L114,268.3 L114.6,268.3 L115.3,268.9 L115.9,269.1 L116.6,269.6 L117.2,268.2 L117.8,269.6 L118.4,271 L119,271.4 L119.6,270.3 L120.2,271.1 L120.8,271.9 L121.4,271.7 L122,272.5 L122.7,271.9 L123.3,273.1 L123.9,273.7 L124.5,273 L125.1,273.7 L125.7,275.9 L126.3,275.9 L126.9,276.7 L127.5,276.4 L128.1,277.2 L128.7,277.7 L129.3,278.1 L129.9,276.5 L130.6,278.2 L131.2,277.7 L131.8,279 L132.4,278.5 L133,279.4 L133.6,280.6 L134.3,280.3 L134.9,279.8 L135.5,280.8 L136.1,280.9 L136.7,282.4 L137.3,281.3 L138,281.7 L138.6,282.8 L139.2,282 L139.8,283.4 L140.4,284.5 L141.1,283.9 L141.7,283.7 L142.4,284.4 L143,284.9 L143.7,284.4 L144.3,284.7 L145,285 L145.6,285.7 L146.3,286.3 L146.9,286.3 L147.6,286.6 L148.2,286.5 L148.9,287.9 L149.5,288.8 L150.2,288.5 L150.8,288.7 L151.5,289 L152.2,288.3 L152.9,289.6 L153.5,289.2 L154.2,289.6 L154.9,290 L155.6,289.9 L156.2,289.7 L156.9,289.8 L157.6,289.9 L158.2,290.8 L158.9,290.7 L159.6,291.3 L160.3,290.3 L160.9,291.2 L161.6,292.6 L162.3,291.4 L162.9,292.3 L163.6,292.4 L164.3,292.1 L165,293.9 L165.6,292.5 L166.3,293.8 L167,292.6 L167.7,292.6 L168.3,294.6 L169,293.9 L169.7,293.1 L170.4,294 L171.1,294.2 L171.8,294.9 L172.5,293.7 L173.2,294 L173.9,295.7 L174.6,295.4 L175.3,294.2 L176,294.7 L176.7,294.8 L177.4,295.6 L178.1,295.6 L178.8,296.2 L179.5,296.3 L180.2,295.7 L180.9,296.3 L181.6,296.4 L182.3,296.5 L183,296 L183.7,296.8 L184.4,296.7 L185.1,297.3 L185.8,295.7 L186.5,297.4 L187.2,295.6 L187.9,297.4 L188.6,297.1 L189.3,297 L190,298.1 L190.7,297.4 L191.4,297.1 L192.1,298 L192.8,298.3 L193.5,297.9 L194.2,297.5 L194.9,297.7 L195.6,297.8 L196.3,298.5 L197,297.7 L197.7,298 L198.3,298.5 L199,298.2 L199.7,298.2 L200.4,299.3 L201.1,299.5 L201.8,298.9 L202.5,298.8 L203.2,298.4 L203.9,298.7 L204.6,298.5 L205.3,299.6 L206,299.7 L206.7,298.7 L207.4,300.6 L208.1,299.4 L208.8,300.6 L209.5,300.6 L210.2,301 L210.9,299.3 L211.6,299.9 L212.3,301 L213,299.1 L213.7,299.2 L214.4,300.4 L215.1,300.3 L215.8,301.3 L216.5,301 L217.2,300.5 L217.9,301.6 L218.6,300.6 L219.3,300.6 L220,301.1 L220.7,300.5 L221.4,300.4 L222.1,301 L222.8,300.5 L223.5,301.9 L224.2,301.3 L224.9,301.1 L225.6,300.2 L226.3,300.8 L227,300.9 L227.7,301.3 L228.4,301.5 L229.1,302.2 L229.8,302.5 L230.5,301.5 L231.2,301.5 L231.9,302 L232.6,302.9 L233.3,301.6 L234,302.1 L234.7,302.8 L235.4,301.5 L236.1,301.9 L236.8,303.4 L237.4,303.2 L238.1,302.6 L238.8,301.8 L239.5,303.6 L240.2,303.2 L240.9,303.6 L241.6,304.1 L242.3,303.9 L243,303 L243.7,302.5 L244.4,302.9 L245.1,303.5 L245.8,303.5 L246.5,302.9 L247.2,303 L247.9,304 L248.6,304 L249.4,303.5 L250.1,304.9 L250.8,304.2 L251.5,302.9 L252.3,303.8 L253,304.6 L253.7,303.6 L254.4,304.5 L255.1,303 L255.9,303.7 L256.6,304.9 L257.3,304.4 L258,304.6 L258.8,303.6 L259.5,304.3 L260.2,304.5 L260.9,303.9 L261.6,304.8 L262.4,304.5 L263.1,305.6 L263.8,304.7 L264.5,304.4 L265.3,303.8 L266,303.9 L266.7,305.3 L267.4,303.9 L268.1,303.9 L268.8,304.1 L269.5,304.9 L270.2,305.6 L270.9,305.2 L271.6,305.6 L272.3,304 L273,303.9 L273.7,305.7 L274.4,304.7 L275.1,305.6 L275.8,304.8 L276.5,304.5 L277.2,304.7 L277.9,304.4 L278.6,306.2 L279.3,305.5 L280,305 L280.7,305.3 L281.4,305.2 L282.1,304.5 L282.8,306.4 L283.5,305.7 L284.2,306.6 L284.9,305.5 L285.6,305.9 L286.3,305.1 L287,304.7 L287.7,306.7 L288.5,306.6 L289.2,305.4 L289.9,306.7 L290.6,306.6 L291.4,305.5 L292.1,306.2 L292.8,307 L293.5,306 L294.2,307.1 L295,305.5 L295.7,305.9 L296.4,306.6 L297.1,305.6 L297.9,305.8 L298.6,307.1 L299.3,306.3 L300,307 L300.7,305.8 L301.5,305.7 L302.2,306.1 L302.9,305.8 L303.6,307.5 L304.4,306.1 L305.1,306.7 L305.8,305.8 L306.5,306.7 L307.2,306.4 L307.9,306.4 L308.6,305.7 L309.4,305.9 L310.1,307.4 L310.8,306.4 L311.5,306.2 L312.2,306.1 L312.9,306.3 L313.6,306.2 L314.3,305.8 L315.1,307.2 L315.8,306.5 L316.5,306.1 L317.2,307.3 L317.9,306 L318.6,306.4 L319.3,307.7 L320,306.1 L320.7,306.8 L321.5,307.7 L322.2,307.7 L322.9,306.3 L323.6,306.7 L324.3,307.5 L325,306.8 L325.7,308.1 L326.4,306.5 L327.2,308.1 L327.9,307.2 L328.6,306.6 L329.3,307.1 L330,306.4 L330.7,307.7 L331.4,306.7 L332.1,308.1 L332.8,307.4 L333.5,307 L334.3,306.7 L335,307.5 L335.7,306.6 L336.4,308.1 L337.1,306.5 L337.8,307.3 L338.5,307.4 L339.2,306.8 L339.9,307.9 L340.6,307.1 L341.3,307.7 L342.1,307.5 L342.8,306.9 L343.5,307.1 L344.2,306.5 L344.9,306.7 L345.6,308.2 L346.3,307 L347,307.7 L347.7,306.5 L348.4,307.5 L349.1,307 L349.9,307.3 L350.6,306.8 L351.3,306.3 L352,306.8 L352.7,306.6 L353.4,306.4 L354.1,307.7 L354.8,306.7 L355.5,306.9 L356.2,308 L356.9,307.7 L357.7,307.9 L358.4,307.9 L359.1,306.2 L359.8,306.5 L360.5,306 L361.2,307.4 L361.9,307.3 L362.6,306.6 L363.3,306.8 L364,307.3 L364.7,307.3 L365.5,306.3 L366.2,307.6 L366.9,306.5 L367.6,307.1 L368.3,306.1 L369,306 L369.7,307.7 L370.4,307.3 L371.1,307.2 L371.8,305.7 L372.5,305.7 L373.2,305.9 L373.9,305.9 L374.6,306.2 L375.3,306.3 L376,305.5 L376.7,306.1 L377.4,306.8 L378.1,305.7 L378.8,307.2 L379.5,306.6 L380.2,306.8 L380.9,305.8 L381.6,306.2 L382.3,306.7 L383,305.9 L383.7,305.1 L384.4,306.9 L385.1,306.8 L385.8,305.7 L386.5,305.1 L387.2,306.9 L387.9,306.3 L388.6,305.1 L389.3,305.5 L390,305.1 L390.7,306.6 L391.4,305.3 L392.2,306.9 L392.9,306.5 L393.6,305 L394.3,306.4 L395,305.7 L395.8,306.5 L396.5,306.7 L397.2,305.4 L397.9,305 L398.6,306.9 L399.4,305.7 L400.1,306.8 L400.8,306.3 L401.5,306.4 L402.2,306.6 L403,306.1 L403.7,305.7 L404.4,304.9 L405.1,306.3 L405.8,305.7 L406.6,305.8 L407.3,306.7 L408,305 L408.7,306.4 L409.4,304.8 L410.1,306.2 L410.8,306.5 L411.5,305.3 L412.3,305.9 L413,306.8 L413.7,306.1 L414.4,305.9 L415.1,305.2 L415.8,304.8 L416.5,305.4 L417.2,305.6 L417.9,305.1 L418.6,305.3 L419.3,304.9 L420.1,306.2 L420.8,306.1 L421.5,305.2 L422.2,305.2 L422.9,305.8 L423.6,305.6 L424.3,306.7 L425,305.4 L425.7,305.3 L426.4,306.6 L427.1,304.9 L427.9,305.8 L428.6,305.3 L429.3,306.4 L430,305.8 L430.7,306.3 L431.4,305 L432.1,306 L432.8,305.9 L433.5,305.6 L434.2,306.3 L434.9,306.4 L435.7,304.8 L436.4,305.2 L437.1,305.3 L437.8,305 L438.5,304.7 L439.2,305.2 L439.9,305 L440.6,306.1 L441.3,305.5 L442,304.8 L442.7,305.2 L443.5,305.5 L444.2,305.3 L444.9,304.9 L445.6,304.7 L446.3,304.5 L447,306.7 L447.7,306.1 L448.4,304.7 L449.1,306 L449.8,306.6 L450.5,305.7 L451.2,304.6 L451.9,305.5 L452.6,305.3 L453.4,304.8 L454.1,305.5 L454.8,304.3 L455.5,306.3 L456.2,305.7 L456.9,305.7 L457.6,306.3 L458.3,305.7 L459,304.8 L459.7,304.7 L460.4,304.5 L461.1,304.2 L461.8,305.9 L462.5,306 L463.2,304.8 L463.9,304.5 L464.7,305.5 L465.4,305.9 L466.1,306.1 L466.8,304.4 L467.5,305.8 L468.2,305.8 L468.9,305.6 L469.6,304.7 L470.3,304.4 L471,305.8 L471.7,304.6 L472.4,304.7 L473.1,305.1 L473.8,304.7 L474.5,305.7 L475.2,304.4 L476,303.9 L476.7,305.1 L477.4,305.2 L478.1,305.6 L478.8,305.3 L479.5,305.7 L480.2,305.8 L480.9,304.8 L481.6,304.8" fill="none" stroke="#000" stroke-width="2.5" stroke-linejoin="round"/>
<path d="M13.5,306.8 L14.2,307.1 L14.9,307.7 L15.6,306.6 L16.4,307.9 L17.1,306.8 L17.8,307.4 L18.5,308.5 L19.2,306.6 L19.9,306.4 L20.7,307.3 L21.4,306.7 L22.1,307.9 L22.8,306.3 L23.5,308.1 L24.2,308.1 L25,308 L25.7,307.2 L26.4,306.8 L27.1,307.6 L27.8,307.3 L28.5,307.1 L29.3,306.9 L30,307.1 L30.7,307.6 L31.4,307.9 L32.1,308.1 L32.8,306.4 L33.6,306.7 L34.3,307 L35,307.3 L35.7,306.8 L36.4,306.4 L37.1,306.2 L37.9,306.7 L38.6,306.9 L39.3,308.1 L40,307.9 L40.7,307.8 L41.4,308 L42.1,308 L42.8,307.2 L43.5,307.6 L44.2,305.9 L45,307.3 L45.7,307.1 L46.4,306.4 L47.1,307 L47.8,307.8 L48.5,306.7 L49.2,307.1 L49.9,306.3 L50.6,306.4 L51.3,307.6 L52,305.7 L52.7,306 L53.4,307.1 L54.1,306.5 L54.9,305.7 L55.6,307 L56.3,306.3 L57,306.8 L57.7,306.4 L58.4,306.6 L59.1,306.7 L59.8,306.3 L60.5,305.6 L61.2,305.8 L61.9,307.3 L62.6,306.5 L63.3,305.6 L64.1,307.2 L64.8,305.8 L65.5,305.5 L66.2,306.4 L66.9,305.8 L67.6,306.3 L68.3,306.4" fill="none" stroke="#000" stroke-width="2.7" stroke-linejoin="round"/>
<path d="M13.5,307 L14.2,307.7 L14.9,306.7 L15.6,307.6 L16.4,307.7 L17.1,306.6 L17.8,307.3 L18.5,306.5 L19.2,307.3 L19.9,308.3 L20.7,307.5 L21.4,307.9 L22.1,308 L22.8,306.5 L23.5,308.5 L24.2,307.8 L25,306.5 L25.7,308.1 L26.4,307.1 L27.1,306.6 L27.8,308.3 L28.5,307.4 L29.3,307.8 L30,306.4 L30.7,307.8 L31.4,306.2 L32.1,306.6 L32.8,306.9 L33.6,306.1 L34.3,307.3 L35,306.5 L35.7,306.7 L36.4,307.5 L37.1,306.9 L37.9,307.9 L38.6,307.3 L39.3,307.8 L40,307.1 L40.7,307.9 L41.4,307.8 L42.1,306.2 L42.8,307.5 L43.5,306.6 L44.2,307.5 L45,307.3 L45.7,307.6 L46.4,306 L47.1,306.5 L47.8,307.3 L48.5,307.8 L49.2,307.3 L49.9,305.8 L50.6,307 L51.3,305.8 L52,306.8 L52.7,307.4 L53.4,305.8 L54.1,307.6 L54.9,307 L55.6,306.1 L56.3,305.9 L57,306.5 L57.7,307.3 L58.4,306.7 L59.1,305.7 L59.8,305.5 L60.5,305.6 L61.2,307.1 L61.9,305.8 L62.6,306.6 L63.3,306 L64.1,306.8 L64.8,306.1 L65.5,305.6 L66.2,307.2 L66.9,306.4 L67.6,306.7 L68.3,307" fill="none" stroke="#000" stroke-width="2.7" stroke-linejoin="round"/>
<path d="M66.8,316 L68.5,307 L70.8,280 L71.6,253 L72.3,224" fill="none" stroke="#000" stroke-width="1.6"/>
<path d="M80.8,86 L80.7,110 L81,140 L81.6,170 L82.3,195 L83.8,207.4 L85.2,219.7 L87.3,232.1 L90.4,242.4 L94.5,250.7 L100.7,257.9" fill="none" stroke="#111" stroke-width="1.4" stroke-linejoin="round"/>
<path d="M403,247.4 H480.1 V185.4" fill="none" stroke="#000" stroke-width="1.6" stroke-linejoin="round"/>
<path d="M13.5,358 H66.7 V326.7 H82.1 V358 H481" fill="none" stroke="#000" stroke-width="1.5"/>
<path fill-rule="evenodd" d="M5.8,38.8 L18.9,5.5 L25.7,5.5 L39,38.8 L31.9,38.8 L29.7,31.9 L15.3,31.9 L12.8,38.8 Z M22.4,13.3 L17.7,25.7 L27.3,25.7 Z"/>
<text transform="translate(521.93,39.20) scale(0.9290,1)" font-size="49.42" font-weight="bold">B</text>
<text transform="translate(390.63,209.56) scale(1.0302,1)" font-size="24.58">20</text>
<text transform="translate(424.07,209.80) scale(0.9683,1)" font-size="25.29">mV</text>
<path transform="translate(391.01,238.36) scale(0.01207,-0.01200)" d="M763 0L583 0L583 1098Q518 1038 412 979Q307 920 223 890L223 1057Q374 1125 487 1221Q600 1318 647 1409L763 1409Z"/>
<text transform="translate(404.76,238.36) scale(1.0062,1)" font-size="24.58">00</text>
<text transform="translate(436.37,238.36) scale(0.9887,1)" font-size="24.82">ms</text>
<text transform="translate(94.48,349.26) scale(0.9557,1)" font-size="24.58">0.6</text>
<text transform="translate(133.60,349.20) scale(0.9059,1)" font-size="24.86">nA</text>
<path transform="translate(567.15,34.24) scale(0.00962,-0.01041)" d="M763 0L583 0L583 1098Q518 1038 412 979Q307 920 223 890L223 1057Q374 1125 487 1221Q600 1318 647 1409L763 1409Z"/>
<text transform="translate(578.11,34.24) scale(0.9240,1)" font-size="21.33">000000</text>
<path transform="translate(578.11,85.89) scale(0.00962,-0.01041)" d="M763 0L583 0L583 1098Q518 1038 412 979Q307 920 223 890L223 1057Q374 1125 487 1221Q600 1318 647 1409L763 1409Z"/>
<text transform="translate(589.07,85.89) scale(0.9240,1)" font-size="21.33">00000</text>
<path transform="translate(589.07,137.54) scale(0.00962,-0.01041)" d="M763 0L583 0L583 1098Q518 1038 412 979Q307 920 223 890L223 1057Q374 1125 487 1221Q600 1318 647 1409L763 1409Z"/>
<text transform="translate(600.03,137.54) scale(0.9240,1)" font-size="21.33">0000</text>
<path transform="translate(600.03,189.19) scale(0.00962,-0.01041)" d="M763 0L583 0L583 1098Q518 1038 412 979Q307 920 223 890L223 1057Q374 1125 487 1221Q600 1318 647 1409L763 1409Z"/>
<text transform="translate(610.99,189.19) scale(0.9240,1)" font-size="21.33">000</text>
<path transform="translate(610.99,240.84) scale(0.00962,-0.01041)" d="M763 0L583 0L583 1098Q518 1038 412 979Q307 920 223 890L223 1057Q374 1125 487 1221Q600 1318 647 1409L763 1409Z"/>
<text transform="translate(621.95,240.84) scale(0.9240,1)" font-size="21.33">00</text>
<path d="M653.4,26.6 V270.5 H1018" fill="none" stroke="#000" stroke-width="1.6"/>
<path d="M645.9,233.9 H653" stroke="#000" stroke-width="1.4"/>
<path d="M645.9,182.2 H653" stroke="#000" stroke-width="1.4"/>
<path d="M645.9,130.6 H653" stroke="#000" stroke-width="1.4"/>
<path d="M645.9,79 H653" stroke="#000" stroke-width="1.4"/>
<path d="M645.9,27.3 H653" stroke="#000" stroke-width="1.4"/>
<path d="M649.2,260.9 H653" stroke="#000" stroke-width="1.3"/>
<path d="M649.2,254.5 H653" stroke="#000" stroke-width="1.3"/>
<path d="M649.2,249.4 H653" stroke="#000" stroke-width="1.3"/>
<path d="M649.2,245.4 H653" stroke="#000" stroke-width="1.3"/>
<path d="M649.2,241.9 H653" stroke="#000" stroke-width="1.3"/>
<path d="M649.2,238.9 H653" stroke="#000" stroke-width="1.3"/>
<path d="M649.2,236.3 H653" stroke="#000" stroke-width="1.3"/>
<path d="M649.2,218.4 H653" stroke="#000" stroke-width="1.3"/>
<path d="M649.2,209.3 H653" stroke="#000" stroke-width="1.3"/>
<path d="M649.2,202.8 H653" stroke="#000" stroke-width="1.3"/>
<path d="M649.2,197.8 H653" stroke="#000" stroke-width="1.3"/>
<path d="M649.2,193.7 H653" stroke="#000" stroke-width="1.3"/>
<path d="M649.2,190.3 H653" stroke="#000" stroke-width="1.3"/>
<path d="M649.2,187.3 H653" stroke="#000" stroke-width="1.3"/>
<path d="M649.2,184.6 H653" stroke="#000" stroke-width="1.3"/>
<path d="M649.2,166.7 H653" stroke="#000" stroke-width="1.3"/>
<path d="M649.2,157.6 H653" stroke="#000" stroke-width="1.3"/>
<path d="M649.2,151.2 H653" stroke="#000" stroke-width="1.3"/>
<path d="M649.2,146.1 H653" stroke="#000" stroke-width="1.3"/>
<path d="M649.2,142.1 H653" stroke="#000" stroke-width="1.3"/>
<path d="M649.2,138.6 H653" stroke="#000" stroke-width="1.3"/>
<path d="M649.2,135.6 H653" stroke="#000" stroke-width="1.3"/>
<path d="M649.2,133 H653" stroke="#000" stroke-width="1.3"/>
<path d="M649.2,115.1 H653" stroke="#000" stroke-width="1.3"/>
<path d="M649.2,106 H653" stroke="#000" stroke-width="1.3"/>
<path d="M649.2,99.5 H653" stroke="#000" stroke-width="1.3"/>
<path d="M649.2,94.5 H653" stroke="#000" stroke-width="1.3"/>
<path d="M649.2,90.4 H653" stroke="#000" stroke-width="1.3"/>
<path d="M649.2,87 H653" stroke="#000" stroke-width="1.3"/>
<path d="M649.2,84 H653" stroke="#000" stroke-width="1.3"/>
<path d="M649.2,81.3 H653" stroke="#000" stroke-width="1.3"/>
<path d="M649.2,63.4 H653" stroke="#000" stroke-width="1.3"/>
<path d="M649.2,54.3 H653" stroke="#000" stroke-width="1.3"/>
<path d="M649.2,47.9 H653" stroke="#000" stroke-width="1.3"/>
<path d="M649.2,42.8 H653" stroke="#000" stroke-width="1.3"/>
<path d="M649.2,38.8 H653" stroke="#000" stroke-width="1.3"/>
<path d="M649.2,35.3 H653" stroke="#000" stroke-width="1.3"/>
<path d="M649.2,32.3 H653" stroke="#000" stroke-width="1.3"/>
<path d="M649.2,29.7 H653" stroke="#000" stroke-width="1.3"/>
<path d="M679.4,270 V277" stroke="#000" stroke-width="1.4" stroke-linecap="round"/>
<path d="M731.3,270 V277" stroke="#000" stroke-width="1.4" stroke-linecap="round"/>
<path d="M783.2,270 V277" stroke="#000" stroke-width="1.4" stroke-linecap="round"/>
<path d="M835.1,270 V277" stroke="#000" stroke-width="1.4" stroke-linecap="round"/>
<path d="M887,270 V277" stroke="#000" stroke-width="1.4" stroke-linecap="round"/>
<path d="M938.9,270 V277" stroke="#000" stroke-width="1.4" stroke-linecap="round"/>
<path d="M990.8,270 V277" stroke="#000" stroke-width="1.4" stroke-linecap="round"/>
<text transform="translate(556,148.6) rotate(-90) scale(0.975,1)" text-anchor="middle" font-size="20.6">Area (mV×ms)</text>
<path d="M670.6,27.35 H781.6 M670.6,20.5 V34.3 M781.6,20.5 V34.3" stroke="#000" stroke-width="3.6" stroke-linecap="round" fill="none"/>
<path d="M670.6,56 H731.3 M670.6,48.9 V63.6 M731.3,48.9 V63.6" stroke="#000" stroke-width="3.6" stroke-linecap="round" fill="none"/>
<text transform="translate(711.54,21.87) scale(1.1333,1)" font-size="18.28" font-weight="bold">***</text>
<text transform="translate(692.04,53.67) scale(1.1474,1)" font-size="18.28" font-weight="bold">***</text>
<circle cx="664.9" cy="71.8" r="4.9"/>
<circle cx="672.2" cy="79.7" r="4.9"/>
<circle cx="679.6" cy="78.1" r="4.9"/>
<circle cx="687.4" cy="79.2" r="4.9"/>
<circle cx="689" cy="86.7" r="4.9"/>
<circle cx="690.1" cy="93.2" r="4.9"/>
<circle cx="690.1" cy="101.4" r="4.9"/>
<circle cx="672.2" cy="88.9" r="4.9"/>
<circle cx="665.2" cy="95.2" r="4.9"/>
<circle cx="672.2" cy="95.4" r="4.9"/>
<circle cx="679.5" cy="95.8" r="4.9"/>
<circle cx="672.2" cy="103.6" r="4.9"/>
<circle cx="665.2" cy="111.2" r="4.9"/>
<circle cx="679.8" cy="111.2" r="4.9"/>
<circle cx="672.2" cy="111" r="4.9"/>
<circle cx="669" cy="118.2" r="4.9"/>
<circle cx="678.7" cy="120.4" r="4.9"/>
<circle cx="664.7" cy="127.4" r="4.9"/>
<circle cx="672.2" cy="129.6" r="4.9"/>
<circle cx="686.9" cy="128.5" r="4.9"/>
<circle cx="671" cy="85" r="4.9"/>
<circle cx="673.5" cy="84" r="4.9"/>
<circle cx="674.5" cy="90" r="4.9"/>
<circle cx="668.5" cy="91" r="4.9"/>
<circle cx="668" cy="103" r="4.9"/>
<circle cx="677" cy="104" r="4.9"/>
<path d="M719.7,81.3L726.5,88.1M719.7,88.1L726.5,81.3M727.4,81.3L734.2,88.1M727.4,88.1L734.2,81.3M735.9,81.3L742.7,88.1M735.9,88.1L742.7,81.3M726.7,89L733.5,95.8M726.7,95.8L733.5,89M731.3,92.9L738.1,99.7M731.3,99.7L738.1,92.9M723.6,95.2L730.4,102M723.6,102L730.4,95.2M735.9,99L742.7,105.8M735.9,105.8L742.7,99M719.7,101.3L726.5,108.1M719.7,108.1L726.5,101.3M720.5,105.1L727.3,111.9M720.5,111.9L727.3,105.1M735.2,105.2L742,112M735.2,112L742,105.2M735.2,111.4L742,118.2M735.2,118.2L742,111.4M720.5,116L727.3,122.8M720.5,122.8L727.3,116M728.2,119.9L735,126.7M728.2,126.7L735,119.9M726.7,98.3L733.5,105.1M726.7,105.1L733.5,98.3M720.5,163.2L727.3,170M720.5,170L727.3,163.2M729.2,167.8L736,174.6M729.2,174.6L736,167.8M735,166.7L741.8,173.5M735,173.5L741.8,166.7M720.5,173.6L727.3,180.4M720.5,180.4L727.3,173.6M735,179.4L741.8,186.2M735,186.2L741.8,179.4M720.5,185.8L727.3,192.6M720.5,192.6L727.3,185.8M735,189.3L741.8,196.1M735,196.1L741.8,189.3M728,198L734.8,204.8M728,204.8L734.8,198M725.2,203.2L732,210M725.2,210L732,203.2M729.8,204.4L736.6,211.2M729.8,211.2L736.6,204.4M719.4,207.8L726.2,214.6M719.4,214.6L726.2,207.8M734.4,208.4L741.2,215.2M734.4,215.2L741.2,208.4M719.4,212.5L726.2,219.3M719.4,219.3L726.2,212.5M735.6,212.5L742.4,219.3M735.6,219.3L742.4,212.5M720.5,218.3L727.3,225.1M720.5,225.1L727.3,218.3M735,226.4L741.8,233.2M735,233.2L741.8,226.4M727.5,206.6L734.3,213.4M727.5,213.4L734.3,206.6M727.6,257.1L734.4,263.9M727.6,263.9L734.4,257.1M723.6,200.6L730.4,207.4M723.6,207.4L730.4,200.6M731.6,201.1L738.4,207.9M731.6,207.9L738.4,201.1M722.6,206.6L729.4,213.4M722.6,213.4L729.4,206.6M732.6,205.6L739.4,212.4M732.6,212.4L739.4,205.6M728.1,210.6L734.9,217.4M728.1,217.4L734.9,210.6" stroke="#000" stroke-width="2.5" stroke-linecap="round" fill="none"/>
<path d="M771,195.2H781M776,190.2V200.2M785.8,200.4H795.8M790.8,195.4V205.4M776.1,204.5H786.1M781.1,199.5V209.5M778.1,209.7H788.1M783.1,204.7V214.7M781.9,213.5H791.9M786.9,208.5V218.5M771,218.1H781M776,213.1V223.1M778.1,218.1H788.1M783.1,213.1V223.1M785.8,218.1H795.8M790.8,213.1V223.1M774.2,214.2H784.2M779.2,209.2V219.2M782,209H792M787,204V214M779,207H789M784,202V212M782,214.5H792M787,209.5V219.5M776,211H786M781,206V216" stroke="#000" stroke-width="2.6" stroke-linecap="round" fill="none"/>
<path d="M830.2,56.1H840.6L835.4,66.3ZM837.5,76.6H847.9L842.7,86.8ZM822.9,83.2H833.3L828.1,93.4ZM815.6,94.3H826L820.8,104.5ZM830,93.7H840.4L835.2,103.9ZM830,99.6H840.4L835.2,109.8ZM830,110.3H840.4L835.2,120.5ZM815.6,115.9H826L820.8,126.1ZM823.1,123.8H833.5L828.3,134ZM837.5,123.8H847.9L842.7,134ZM889.4,80.8H899.6L894.5,70.8ZM874.9,90.6H885.1L880,80.6ZM874.9,101.6H885.1L880,91.6ZM889.4,101.4H899.6L894.5,91.4ZM882.3,112.2H892.5L887.4,102.2ZM882.2,146.9H892.4L887.3,136.9ZM920,91.3h10v10h-10ZM934.4,87h10v10h-10ZM934.4,100.4h10v10h-10ZM934.4,110.6h10v10h-10ZM920,114.9h10v10h-10ZM927,124.1h10v10h-10ZM941.5,119.4h10v10h-10ZM998.6,81.9L1004.9,88.2L998.6,94.5L992.3,88.2ZM983.9,90.7L990.2,97L983.9,103.3L977.6,97ZM991.2,98.9L997.5,105.2L991.2,111.5L984.9,105.2ZM976.8,105.4L983.1,111.7L976.8,118L970.5,111.7ZM991.2,108.9L997.5,115.2L991.2,121.5L984.9,115.2ZM976.8,119.7L983.1,126L976.8,132.3L970.5,126ZM991.2,117.4L997.5,123.7L991.2,130L984.9,123.7ZM983.9,127L990.2,133.3L983.9,139.6L977.6,133.3ZM998.6,123.9L1004.9,130.2L998.6,136.5L992.3,130.2Z"/>
<g transform="translate(684.8,298) rotate(-45)"><text transform="translate(-31.40,0.00) scale(1.0000,1)" font-size="20.20">WT</text></g>
<g transform="translate(736.7,298) rotate(-45)"><text transform="translate(-95.41,0.00) scale(1.0000,1)" font-size="20.20">TRPC</text>
<path transform="translate(-40.42,0.00) scale(0.00986,-0.00986)" d="M763 0L583 0L583 1098Q518 1038 412 979Q307 920 223 890L223 1057Q374 1125 487 1221Q600 1318 647 1409L763 1409Z"/>
<text transform="translate(-29.19,0.00) scale(1.0000,1)" font-size="20.20">KO</text></g>
<g transform="translate(788.6,298) rotate(-45)"><text transform="translate(-126.84,0.00) scale(1.0000,1)" font-size="20.20">TRPC</text>
<path transform="translate(-71.85,0.00) scale(0.00986,-0.00986)" d="M763 0L583 0L583 1098Q518 1038 412 979Q307 920 223 890L223 1057Q374 1125 487 1221Q600 1318 647 1409L763 1409Z"/>
<text transform="translate(-60.62,0.00) scale(1.0000,1)" font-size="20.20">/4DKO</text></g>
<g transform="translate(840.5,298) rotate(-45)"><text transform="translate(-95.41,0.00) scale(1.0000,1)" font-size="20.20">TRPC3KO</text></g>
<g transform="translate(892.4,298) rotate(-45)"><text transform="translate(-95.41,0.00) scale(1.0000,1)" font-size="20.20">TRPC5KO</text></g>
<g transform="translate(944.3,298) rotate(-45)"><text transform="translate(-95.41,0.00) scale(1.0000,1)" font-size="20.20">TRPC6KO</text></g>
<g transform="translate(996.2,298) rotate(-45)"><text transform="translate(-95.41,0.00) scale(1.0000,1)" font-size="20.20">TRPC7KO</text></g>
</svg>
</body></html>
